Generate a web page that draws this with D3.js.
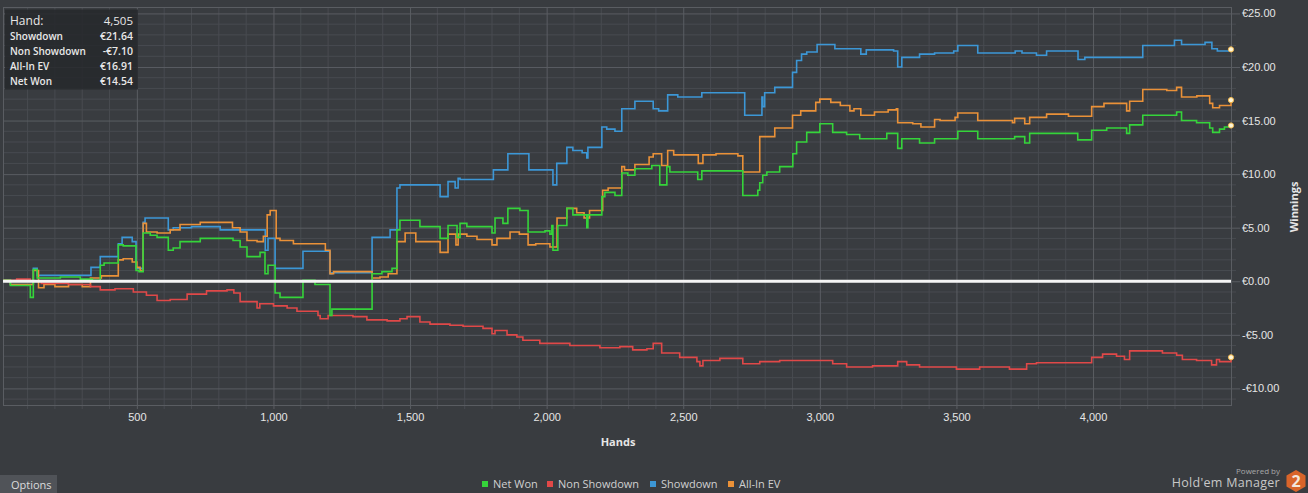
<!DOCTYPE html>
<html>
<head>
<meta charset="utf-8">
<script src="https://cdn.jsdelivr.net/npm/d3@7"></script>
<style>
  html, body { margin: 0; padding: 0; background: #393c40; overflow: hidden; }
  svg { display: block; font-family: "Open Sans", "Noto Sans", sans-serif; }
</style>
</head>
<body>
<script>
// ---- data: [hand, euros] ----
const netWon = [
  [11, 0.1], [37, -0.4], [110, -1.5], [121, 1.1], [135, 0.3], [220, 0.4], [293, 0.2], [337, 0.1],
  [366, 1.5], [380, 1.7], [432, 3.4], [450, 3.3], [497, 1.0], [508, 0.9], [523, 4.5], [549, 4.3],
  [574, 4.1], [615, 2.9], [633, 3.1], [658, 3.7], [732, 4.0], [852, 3.8], [878, 3.2], [903, 2.3],
  [951, 2.7], [969, 0.7], [980, 1.5], [1006, -1.1], [1024, -1.5], [1108, 0.1], [1152, -0.3],
  [1207, -3.2], [1214, -2.6], [1361, 0.7], [1397, 0.9], [1434, 1.2], [1452, 4.8], [1463, 5.7],
  [1536, 5.1], [1610, 4.0], [1639, 5.2], [1672, 4.1], [1683, 5.4], [1708, 5.1], [1800, 4.5],
  [1811, 5.9], [1840, 5.4], [1858, 6.8], [1902, 6.6], [1932, 4.6], [1994, 4.7], [2012, 4.4],
  [2019, 5.2], [2023, 2.9], [2041, 5.2], [2074, 6.8], [2096, 6.2], [2147, 5.0], [2151, 6.2],
  [2202, 7.9], [2213, 8.3], [2250, 8.0], [2275, 10.1], [2297, 9.9], [2323, 10.5], [2385, 10.8],
  [2414, 9.0], [2440, 10.7], [2451, 10.2], [2553, 9.5], [2568, 10.3], [2718, 8.0], [2773, 8.5],
  [2780, 9.2], [2791, 9.9], [2806, 10.2], [2853, 10.7], [2901, 11.9], [2915, 13.0], [2952, 13.9],
  [3000, 14.7], [3047, 13.9], [3098, 13.7], [3146, 13.3], [3245, 13.8], [3285, 12.4], [3300, 13.3],
  [3365, 12.9], [3420, 13.3], [3505, 14.0], [3578, 13.3], [3713, 13.5], [3750, 12.9], [3768, 13.8],
  [3944, 13.2], [3995, 14.1], [4050, 14.3], [4123, 13.8], [4134, 14.6], [4182, 15.5], [4306, 15.8],
  [4324, 15.0], [4379, 14.8], [4427, 14.3], [4438, 13.9], [4463, 14.2], [4481, 14.4], [4505, 14.54]
];

const showdown = [
  [11, 0.1], [37, -0.3], [121, 1.2], [135, 0.55], [332, 1.3], [366, 2.3], [432, 3.5], [446, 4.1],
  [483, 3.7], [497, 1.2], [523, 5.5], [530, 5.9], [615, 4.8], [633, 5.0], [700, 5.1], [805, 4.8],
  [970, 2.9], [980, 4.0], [1006, 1.2], [1108, 2.8], [1207, 0.7], [1214, 0.8], [1361, 4.1],
  [1427, 4.8], [1452, 8.7], [1463, 9.0], [1610, 7.9], [1639, 9.3], [1665, 8.7], [1676, 9.6],
  [1683, 9.5], [1805, 10.4], [1858, 11.9], [1935, 10.4], [2023, 9.0], [2037, 11.0], [2074, 12.5],
  [2096, 12.2], [2130, 12.0], [2147, 11.5], [2151, 12.5], [2202, 14.4], [2220, 14.2], [2250, 14.0],
  [2275, 16.1], [2323, 16.8], [2390, 16.1], [2410, 15.9], [2443, 17.4], [2480, 17.2], [2568, 17.6],
  [2725, 15.5], [2788, 17.2], [2791, 16.3], [2798, 17.6], [2835, 18.1], [2900, 19.5], [2915, 20.6],
  [2933, 21.2], [2952, 21.4], [2990, 22.1], [3055, 21.7], [3150, 21.2], [3170, 21.6], [3270, 21.5],
  [3285, 20.0], [3300, 20.9], [3365, 21.2], [3420, 21.3], [3490, 21.5], [3505, 22.0], [3578, 21.3],
  [3715, 21.5], [3740, 21.3], [3793, 21.1], [3830, 21.5], [3945, 20.7], [3970, 20.9], [4182, 22.0],
  [4298, 22.5], [4324, 22.1], [4410, 22.3], [4435, 21.7], [4455, 21.5], [4505, 21.64]
];

const allInEv = [
  [11, 0.1], [37, -0.3], [121, 1.0], [140, -0.6], [160, -0.3], [200, -0.5], [250, -0.3], [300, -0.5],
  [330, 0.3], [370, 0.5], [432, 2.0], [450, 2.1], [483, 1.8], [500, 1.3], [512, 1.0], [523, 5.4],
  [535, 4.6], [574, 4.5], [622, 4.8], [658, 5.3], [732, 5.5], [850, 5.0], [878, 4.6], [903, 3.8],
  [940, 3.7], [963, 4.2], [977, 6.2], [988, 6.6], [1010, 4.0], [1024, 3.8], [1073, 3.5], [1190, 2.9],
  [1207, 0.7], [1220, 0.9], [1361, 0.3], [1390, 0.4], [1420, 0.7], [1452, 3.7], [1482, 4.5],
  [1521, 3.7], [1610, 2.7], [1639, 4.4], [1668, 3.4], [1676, 4.4], [1708, 4.2], [1745, 3.9],
  [1800, 3.4], [1818, 4.0], [1866, 4.6], [1900, 4.4], [1932, 3.4], [1960, 3.5], [2012, 3.2],
  [2038, 5.9], [2074, 6.8], [2110, 6.4], [2137, 5.9], [2157, 6.6], [2205, 8.5], [2225, 8.7],
  [2275, 10.7], [2285, 10.4], [2323, 10.9], [2375, 11.6], [2390, 11.9], [2421, 10.8], [2443, 12.2],
  [2465, 11.8], [2555, 11.0], [2572, 11.8], [2620, 11.9], [2700, 11.7], [2718, 10.2], [2780, 13.5],
  [2835, 14.3], [2900, 15.5], [2930, 15.9], [2985, 16.7], [3000, 17.0], [3040, 16.7], [3075, 16.4],
  [3110, 15.9], [3125, 16.1], [3150, 15.5], [3200, 15.8], [3250, 16.0], [3280, 16.1], [3285, 14.8],
  [3340, 14.7], [3370, 14.4], [3420, 15.1], [3440, 15.0], [3495, 15.3], [3505, 15.7], [3578, 15.0],
  [3705, 14.8], [3713, 15.2], [3750, 14.7], [3768, 15.3], [3830, 15.6], [3910, 15.4], [3995, 16.3],
  [4040, 16.6], [4123, 15.9], [4134, 16.8], [4182, 17.9], [4270, 17.8], [4306, 18.1], [4324, 17.2],
  [4380, 17.3], [4427, 16.6], [4438, 16.2], [4463, 16.4], [4505, 16.91]
];

const nonShowdown = [
  [11, 0.1], [60, 0.2], [110, 0.0], [150, -0.2], [250, -0.3], [330, -0.5], [366, -0.8], [420, -0.7],
  [487, -1.0], [535, -1.3], [574, -1.8], [622, -1.7], [684, -1.2], [755, -0.9], [830, -0.8],
  [855, -1.1], [878, -1.9], [940, -2.5], [950, -2.1], [1000, -2.3], [1050, -2.5], [1086, -2.8],
  [1134, -2.8], [1163, -3.2], [1171, -3.5], [1200, -3.2], [1291, -3.3], [1342, -3.6], [1416, -3.7],
  [1463, -3.5], [1489, -3.3], [1536, -3.8], [1573, -4.0], [1646, -4.1], [1694, -4.2], [1767, -4.4],
  [1800, -4.9], [1811, -4.6], [1855, -5.0], [1891, -5.2], [1913, -5.5], [1975, -5.8], [2085, -6.0],
  [2195, -6.2], [2268, -6.1], [2315, -6.4], [2367, -6.3], [2390, -5.8], [2421, -6.7], [2487, -7.1],
  [2550, -7.5], [2561, -7.9], [2572, -7.4], [2634, -7.2], [2718, -7.7], [2780, -7.5], [2853, -7.4],
  [3000, -7.4], [3047, -7.7], [3098, -8.0], [3193, -7.9], [3285, -7.5], [3318, -7.8], [3365, -8.0],
  [3402, -8.0], [3500, -8.2], [3585, -8.0], [3694, -8.2], [3757, -7.7], [3793, -7.6], [3889, -7.6],
  [3995, -7.1], [4035, -6.8], [4086, -7.0], [4115, -7.3], [4134, -6.5], [4254, -6.7], [4306, -6.9],
  [4327, -7.3], [4379, -7.4], [4434, -7.8], [4452, -7.3], [4463, -7.5], [4505, -7.10]
];

const seriesNames = ["Net Won", "Non Showdown", "Showdown", "All-In EV"];
const seriesColors = ["#35d43a", "#e04848", "#3c97d6", "#ea9138"];
const xMajorTicks = [500, 1000, 1500, 2000, 2500, 3000, 3500, 4000];
const yMajorTicks = [-10, -5, 0, 5, 10, 15, 20, 25];
const tooltipLabels = ["Hand:", "Showdown", "Non Showdown", "All-In EV", "Net Won"];
const tooltipValues = ["4,505", "€21.64", "-€7.10", "€16.91", "€14.54"];

// ---- layout ----
const W = 1308, H = 493;
const plot = { left: 3, right: 1231, top: 7, bottom: 405 };

const svg = d3.select("body").append("svg")
  .attr("width", W)
  .attr("height", H);

const x = d3.scaleLinear().domain([10, 4505]).range([plot.left, plot.right]);
const y = d3.scaleLinear().domain([-11.55, 25.6]).range([plot.bottom, plot.top]);

const euro = d => (d < 0 ? "-€" : "€") + Math.abs(d).toFixed(2);

// minor grid
const minorX = d3.range(100, 4505, 100).filter(d => d % 500 !== 0);
const minorY = d3.range(-11, 26, 1).filter(d => d % 5 !== 0);

svg.append("g")
  .selectAll("line")
  .data(minorX)
  .join("line")
  .attr("x1", d => x(d)).attr("x2", d => x(d))
  .attr("y1", plot.top).attr("y2", plot.bottom + 4)
  .attr("stroke", "#484b50").attr("stroke-width", 1);

svg.append("g")
  .selectAll("line")
  .data(minorY)
  .join("line")
  .attr("x1", plot.left).attr("x2", plot.right + 5)
  .attr("y1", d => y(d)).attr("y2", d => y(d))
  .attr("stroke", "#484b50").attr("stroke-width", 1);

// major grid + axes
const xAxis = svg.append("g")
  .attr("transform", `translate(0,${plot.bottom})`)
  .call(d3.axisBottom(x).tickValues(xMajorTicks).tickSize(4).tickPadding(8)
    .tickFormat(d3.format(",")));
xAxis.select(".domain").remove();
xAxis.selectAll(".tick line")
  .attr("stroke", "#5a5d62")
  .attr("y1", -(plot.bottom - plot.top)).attr("y2", 4);
xAxis.selectAll("text").attr("fill", "#e6e6e6").attr("font-size", 11)
  .attr("dy", "0.71em").attr("y", 8);

const yAxis = svg.append("g")
  .attr("transform", `translate(${plot.right},0)`)
  .call(d3.axisRight(y).tickValues(yMajorTicks).tickSize(9).tickPadding(2).tickFormat(euro));
yAxis.select(".domain").remove();
yAxis.selectAll(".tick line")
  .attr("stroke", "#5a5d62")
  .attr("x1", -(plot.right - plot.left));
yAxis.selectAll("text").attr("fill", "#e6e6e6").attr("font-size", 11);

// plot border
svg.append("rect")
  .attr("x", plot.left + 0.5).attr("y", plot.top + 0.5)
  .attr("width", plot.right - plot.left).attr("height", plot.bottom - plot.top)
  .attr("fill", "none").attr("stroke", "#5a5d62");

// series
const line = d3.line()
  .x(d => x(d[0]))
  .y(d => y(d[1]))
  .curve(d3.curveStepAfter);

const seriesData = [netWon, nonShowdown, showdown, allInEv];
const drawOrder = [2, 3, 1, 0];
drawOrder.forEach(i => {
  svg.append("path")
    .datum(seriesData[i])
    .attr("d", line)
    .attr("fill", "none")
    .attr("stroke", seriesColors[i])
    .attr("stroke-width", 1.6);
});

// zero line
svg.append("line")
  .attr("x1", plot.left).attr("x2", plot.right)
  .attr("y1", y(0)).attr("y2", y(0))
  .attr("stroke", "#f4f4f4").attr("stroke-width", 3);

// end markers
seriesData.forEach(s => {
  const last = s[s.length - 1];
  svg.append("circle")
    .attr("cx", x(last[0])).attr("cy", y(last[1]))
    .attr("r", 2.6)
    .attr("fill", "#fff6d8")
    .attr("stroke", "#f2b84b").attr("stroke-width", 1);
});

// axis titles
svg.append("text")
  .attr("x", 618).attr("y", 446)
  .attr("text-anchor", "middle")
  .attr("font-size", 11).attr("font-weight", "bold")
  .attr("fill", "#e6e6e6")
  .text("Hands");

svg.append("text")
  .attr("transform", "translate(1298,207) rotate(-90)")
  .attr("text-anchor", "middle")
  .attr("font-size", 11).attr("font-weight", "bold")
  .attr("fill", "#e6e6e6")
  .text("Winnings");

// legend
const legendX = [482, 547, 650, 728];
const legend = svg.append("g");
seriesNames.forEach((name, i) => {
  const g = legend.append("g").attr("transform", `translate(${legendX[i]},484)`);
  g.append("rect").attr("x", 0).attr("y", -3).attr("width", 6).attr("height", 6)
    .attr("fill", seriesColors[i]);
  g.append("text").attr("x", 11).attr("y", 4)
    .attr("font-size", 11).attr("fill", "#d0d0d0")
    .text(name);
});

// tooltip box
const tip = svg.append("g");
tip.append("rect")
  .attr("x", 5).attr("y", 9.5).attr("width", 133).attr("height", 80)
  .attr("fill", "#26282b").attr("opacity", 0.85);
tooltipLabels.forEach((lab, i) => {
  const cy = 21 + i * 15;
  const big = i === 0;
  tip.append("text").attr("x", 10).attr("y", cy + 4)
    .attr("font-size", big ? 12 : 10).attr("font-weight", big ? 500 : 600)
    .attr("fill", "#e8e8e8")
    .text(lab);
  tip.append("text").attr("x", 133).attr("y", cy + 4)
    .attr("text-anchor", "end")
    .attr("font-size", big ? 11.5 : 10.5).attr("font-weight", big ? 500 : 600)
    .attr("fill", "#e8e8e8")
    .text(tooltipValues[i]);
});

// options button
svg.append("rect")
  .attr("x", 0).attr("y", 475).attr("width", 57).attr("height", 18)
  .attr("fill", "#505358");
svg.append("text")
  .attr("x", 11).attr("y", 489)
  .attr("font-size", 11).attr("fill", "#dcdcdc")
  .text("Options");

// branding
svg.append("text")
  .attr("x", 1280).attr("y", 474)
  .attr("text-anchor", "end")
  .attr("font-size", 8).attr("fill", "#a8a8a8")
  .text("Powered by");
svg.append("text")
  .attr("x", 1280).attr("y", 487)
  .attr("text-anchor", "end")
  .attr("font-size", 12.5).attr("fill", "#c8c8c8")
  .attr("letter-spacing", 0.3)
  .text("Hold'em Manager");

const hex = d3.range(6).map(k => {
  const a = Math.PI / 3 * k + Math.PI / 6;
  return [1296 + 11 * Math.cos(a), 481 + 11 * Math.sin(a)];
});
svg.append("polygon")
  .attr("points", hex.map(p => p.join(",")).join(" "))
  .attr("fill", "#d8642a");
svg.append("text")
  .attr("x", 1296).attr("y", 487)
  .attr("text-anchor", "middle")
  .attr("font-size", 16).attr("font-weight", "bold").attr("fill", "#f3e6dc")
  .text("2");
</script>
</body>
</html>
